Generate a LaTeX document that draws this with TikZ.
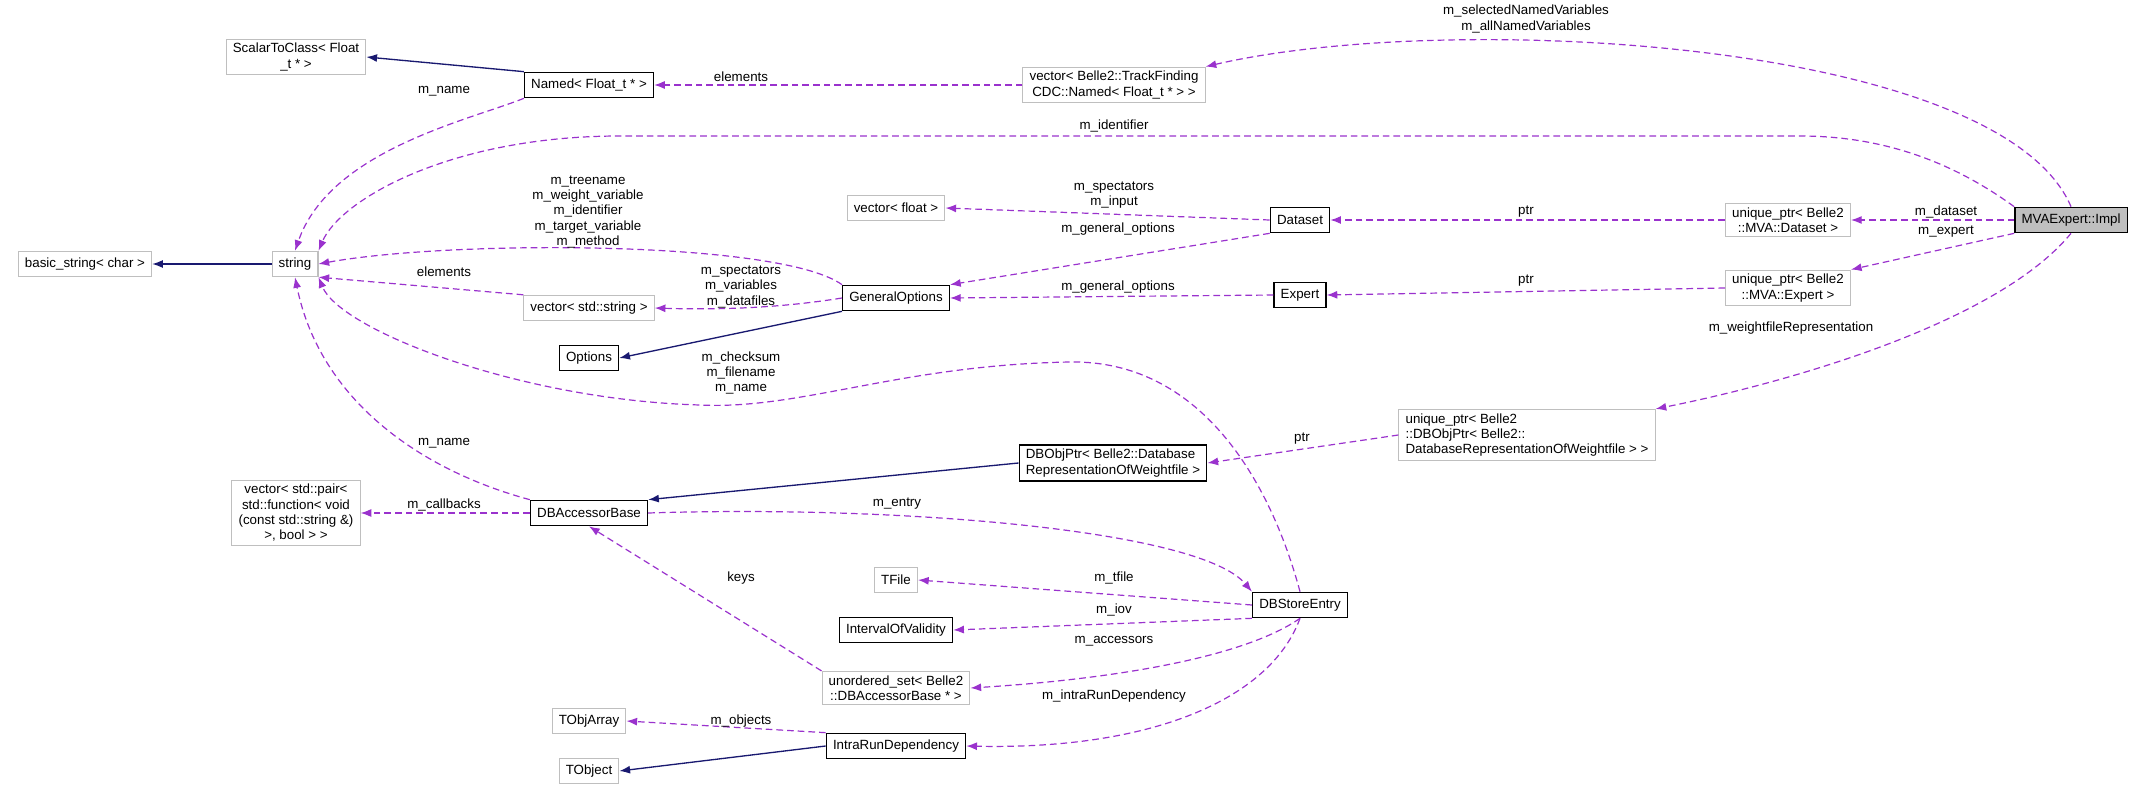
\documentclass[tikz,border=0pt]{standalone}
\usepackage{fontspec}
\setmainfont{Liberation Sans}
\usetikzlibrary{arrows.meta}
\definecolor{edgeuse}{HTML}{9A32CD}
\definecolor{edgeinh}{HTML}{191970}
\definecolor{boxgray}{HTML}{BFBFBF}
\tikzset{
  cls/.style={draw=boxgray, line width=0.8pt, fill=white, align=center, font=\fontsize{10}{11.5}\selectfont, inner xsep=5pt, inner ysep=3pt, minimum height=19pt},
  doc/.style={cls, draw=black, line width=1pt},
  inh/.style={draw=edgeinh, line width=1pt, -{Latex[length=8pt,width=6pt]}},
  use/.style={draw=edgeuse, line width=0.9pt, dash pattern=on 5pt off 3pt, -{Latex[length=8pt,width=6pt]}},
  lbl/.style={font=\fontsize{10}{11.5}\selectfont, align=center, inner sep=0pt},
}
\begin{document}
\begin{tikzpicture}[x=0.75pt,y=-0.75pt]
\useasboundingbox (0,0) rectangle (2141,795);

% classes
\node[cls] (basic) at (85,264) {basic\_string< char >};
\node[cls] (str) at (295,264) {string};
\node[cls] (scalar) at (296,57) {ScalarToClass< Float\\\_t * >};
\node[doc] (named) at (589,85) {Named< Float\_t * >};
\node[cls] (vectf) at (1114,85) {vector< Belle2::TrackFinding\\CDC::Named< Float\_t * > >};
\node[cls] (vfloat) at (896,208) {vector< float >};
\node[cls] (vstr) at (589,308) {vector< std::string >};
\node[doc] (genopt) at (896,298) {GeneralOptions};
\node[doc] (opts) at (589,358) {Options};
\node[doc] (dataset) at (1300,220) {Dataset};
\node[doc] (expert) at (1300,295) {Expert};
\node[cls] (updata) at (1788,220) {unique\_ptr< Belle2\\::MVA::Dataset >};
\node[cls] (upexp) at (1788,288) {unique\_ptr< Belle2\\::MVA::Expert >};
\node[doc, fill=boxgray] (impl) at (2071,220) {MVAExpert::Impl};
\node[cls, align=left] (updb) at (1527,435) {unique\_ptr< Belle2\\::DBObjPtr< Belle2::\\DatabaseRepresentationOfWeightfile > >};
\node[doc, align=left] (dbobj) at (1113,463) {DBObjPtr< Belle2::Database\\RepresentationOfWeightfile >};
\node[cls] (vpair) at (296,513) {vector< std::pair<\\std::function< void\\(const std::string \&)\\>, bool > >};
\node[doc] (dbacc) at (589,513) {DBAccessorBase};
\node[cls] (tfile) at (896,580) {TFile};
\node[doc] (store) at (1300,605) {DBStoreEntry};
\node[doc] (iov) at (896,630) {IntervalOfValidity};
\node[cls] (uset) at (896,688) {unordered\_set< Belle2\\::DBAccessorBase * >};
\node[cls] (tobjarr) at (589,721) {TObjArray};
\node[doc] (intra) at (896,746) {IntraRunDependency};
\node[cls] (tobj) at (589,771) {TObject};

% inheritance
\draw[inh] (named.north west) -- (scalar.east);
\draw[inh] (str) -- (basic);
\draw[inh] (genopt.south west) -- (opts.east);
\draw[inh] (dbobj.west) -- (dbacc.north east);
\draw[inh] (intra.west) -- (tobj.east);

% usage
\draw[use] (named.south west) .. controls (470,120) and (330,150) .. (str.north);
\node[lbl] at (444,91) {m\_name};
\draw[use] (vectf) -- (named);
\node[lbl] at (741,77) {elements};
\draw[use] (impl.north) .. controls (2000,40) and (1450,10) .. (vectf.north east);
\node[lbl] at (1526,19) {m\_selectedNamedVariables\\m\_allNamedVariables};
\draw[use] (impl.north west) .. controls (1950,160) and (1880,136) .. (1800,136) -- (620,136) .. controls (450,136) and (340,200) .. (str.north east);
\node[lbl] at (1114,126) {m\_identifier};
\draw[use] (genopt.north west) .. controls (780,240) and (450,240) .. (str.east);
\node[lbl] at (588,212) {m\_treename\\m\_weight\_variable\\m\_identifier\\m\_target\_variable\\m\_method};
\draw[use] (vstr.north west) -- (str.south east);
\node[lbl] at (444,272) {elements};
\draw[use] (genopt.west) .. controls (780,308) and (720,310) .. (vstr.east);
\node[lbl] at (741,287) {m\_spectators\\m\_variables\\m\_datafiles};
\draw[use] (dataset.west) -- (vfloat.east);
\node[lbl] at (1114,195) {m\_spectators\\m\_input};
\draw[use] (dataset.south west) -- (genopt.north east);
\node[lbl] at (1118,229) {m\_general\_options};
\draw[use] (expert.west) -- (genopt.east);
\node[lbl] at (1118,287) {m\_general\_options};
\draw[use] (updata) -- (dataset);
\node[lbl] at (1526,212) {ptr};
\draw[use] (impl) -- (updata);
\node[lbl] at (1946,212) {m\_dataset};
\draw[use] (impl.south west) -- (upexp.north east);
\node[lbl] at (1946,232) {m\_expert};
\draw[use] (upexp.west) -- (expert.east);
\node[lbl] at (1526,281) {ptr};
\draw[use] (impl.south) .. controls (2000,320) and (1800,380) .. (updb.north east);
\node[lbl] at (1791,328) {m\_weightfileRepresentation};
\draw[use] (updb.west) -- (dbobj.east);
\node[lbl] at (1302,439) {ptr};
\draw[use] (store.north) .. controls (1270,480) and (1200,360) .. (1070,362) .. controls (900,365) and (800,410) .. (700,405) .. controls (520,400) and (340,330) .. (str.south east);
\node[lbl] at (741,373) {m\_checksum\\m\_filename\\m\_name};
\draw[use] (dbacc.north west) .. controls (420,470) and (320,400) .. (str.south);
\node[lbl] at (444,443) {m\_name};
\draw[use] (dbacc.west) -- (vpair.east);
\node[lbl] at (444,505) {m\_callbacks};
\draw[use] (dbacc.east) .. controls (900,505) and (1200,530) .. (store.north west);
\node[lbl] at (897,504) {m\_entry};
\draw[use] (store.west) -- (tfile.east);
\node[lbl] at (1114,578) {m\_tfile};
\draw[use] (store.south west) -- (iov.east);
\node[lbl] at (1114,610) {m\_iov};
\draw[use] (store.south) .. controls (1240,660) and (1100,680) .. (uset.east);
\node[lbl] at (1114,641) {m\_accessors};
\draw[use] (uset.north west) -- (dbacc.south);
\node[lbl] at (741,578) {keys};
\draw[use] (store.south) .. controls (1270,700) and (1150,750) .. (intra.east);
\node[lbl] at (1114,696) {m\_intraRunDependency};
\draw[use] (intra.north west) -- (tobjarr.east);
\node[lbl] at (741,721) {m\_objects};
\end{tikzpicture}
\end{document}
